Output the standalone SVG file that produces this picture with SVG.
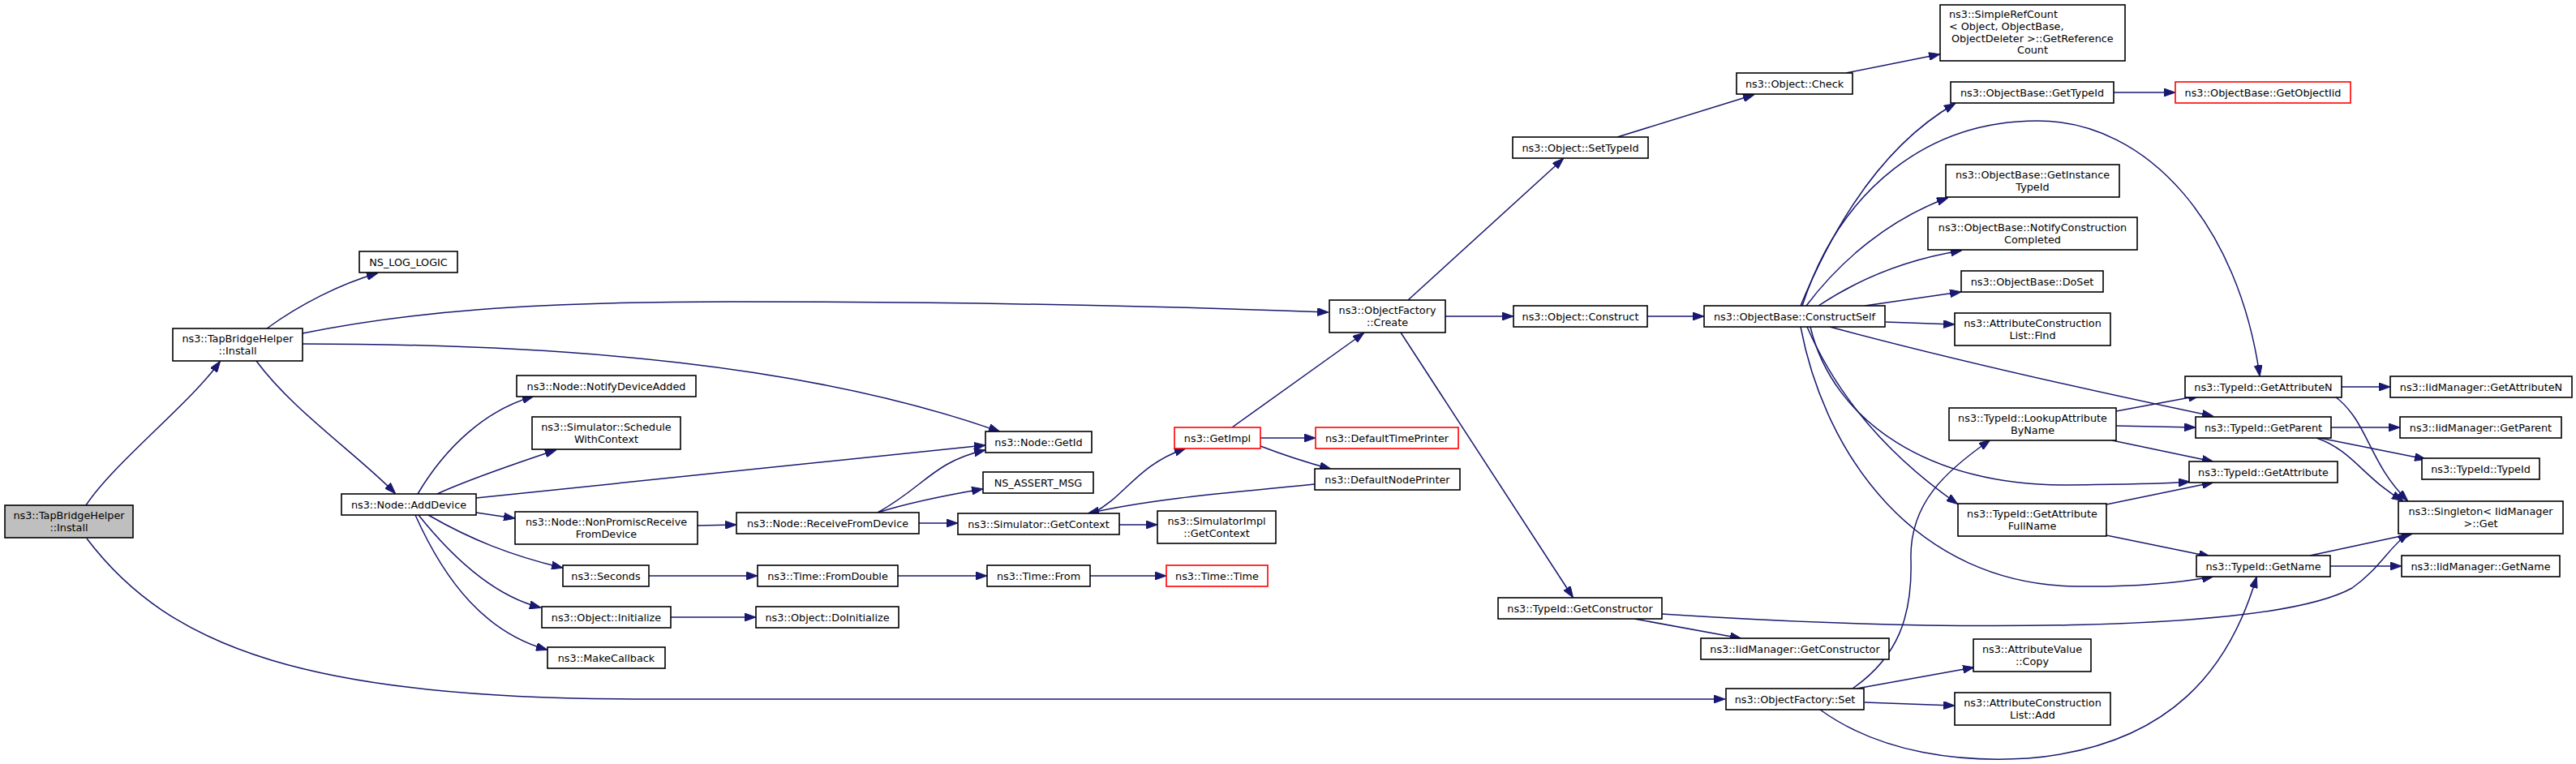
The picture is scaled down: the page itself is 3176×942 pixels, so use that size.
<svg xmlns="http://www.w3.org/2000/svg" width="3176" height="942" viewBox="0 0 3176 942">
<style>
.n{fill:#fff;stroke:#000;stroke-width:1.6}
.r{fill:#fff;stroke:#f00;stroke-width:1.6}
.g{fill:#bfbfbf;stroke:#000;stroke-width:1.6}
text{font-family:"DejaVu Sans","Liberation Sans",sans-serif;font-size:12.8px;fill:#000;text-anchor:middle}
.l{text-anchor:start}
#edges path{fill:none;stroke:#191970;stroke-width:1.5;marker-end:url(#a)}
</style>
<defs>
<marker id="a" viewBox="0 0 14 10" refX="13" refY="5" markerWidth="14" markerHeight="10" markerUnits="userSpaceOnUse" orient="auto">
<path d="M0,0L14,5L0,10z" fill="#191970" stroke="#191970" stroke-width="1"/>
</marker>
</defs>
<rect width="3176" height="942" fill="#fff"/>
<g id="edges">
<path d="M106,623 C140,571 235,497 271,446"/>
<path d="M107,664 C210,800 380,862 800,862 L2126,862"/>
<path d="M329,405 C370,375 420,350 465,337"/>
<path d="M373,411 C500,385 650,372 900,372 C1200,372 1450,378 1637,385"/>
<path d="M373,424 C700,424 1000,450 1232,532"/>
<path d="M316,445 C360,505 440,560 487,608"/>
<path d="M515,609 C550,550 600,505 657,489"/>
<path d="M539,609 C580,590 640,570 685,555"/>
<path d="M587,614 L1214,549"/>
<path d="M587,632 L634,639"/>
<path d="M528,635 C580,665 630,685 693,700"/>
<path d="M516,635 C560,690 610,735 666,749"/>
<path d="M512,635 C550,720 600,780 674,801"/>
<path d="M860,648 L907,647"/>
<path d="M1082,632 C1140,600 1150,570 1214,555"/>
<path d="M1082,632 C1120,620 1170,610 1211,603"/>
<path d="M1133,645 L1180,645"/>
<path d="M1347,633 C1390,610 1400,575 1461,553"/>
<path d="M1380,647 L1426,647"/>
<path d="M1519,527 L1681,411"/>
<path d="M1554,540 L1621,540"/>
<path d="M1554,550 C1580,560 1610,570 1640,578"/>
<path d="M1621,597 C1520,607 1420,615 1342,633"/>
<path d="M800,710 L933,710"/>
<path d="M1107,710 L1216,710"/>
<path d="M1344,710 L1437,710"/>
<path d="M827,761 L931,761"/>
<path d="M1736,370 L1927,196"/>
<path d="M1782,390 L1865,390"/>
<path d="M1727,410 L1939,736"/>
<path d="M1994,169 L2162,117"/>
<path d="M2276,90 L2391,67"/>
<path d="M2031,390 L2100,390"/>
<path d="M2220,377 C2260,280 2320,180 2410,128"/>
<path d="M2222,377 C2270,230 2380,149 2512,149 C2650,149 2760,280 2786,463"/>
<path d="M2227,377 C2270,320 2330,270 2401,244"/>
<path d="M2242,377 C2290,345 2350,320 2418,309"/>
<path d="M2299,377 L2417,360"/>
<path d="M2325,397 L2409,400"/>
<path d="M2256,403 Q2450,455 2728,513"/>
<path d="M2232,403 C2260,520 2380,600 2550,598 C2620,597 2660,597 2699,594"/>
<path d="M2228,403 C2270,500 2340,570 2413,621"/>
<path d="M2220,403 C2250,560 2360,720 2560,723 C2640,724 2690,718 2728,711"/>
<path d="M2284,849 C2340,810 2358,760 2356,690 C2354,620 2400,580 2453,543"/>
<path d="M2609,507 L2711,488"/>
<path d="M2609,525 L2706,527"/>
<path d="M2604,543 L2728,569"/>
<path d="M2597,622 L2728,595"/>
<path d="M2597,660 L2724,686"/>
<path d="M2887,477 L2946,477"/>
<path d="M2879,489 C2920,520 2920,570 2968,617"/>
<path d="M2874,527 L2958,527"/>
<path d="M2860,540 L2990,566"/>
<path d="M2856,540 C2900,555 2915,590 2962,617"/>
<path d="M2848,685 L2974,658"/>
<path d="M2873,698 L2960,698"/>
<path d="M2015,763 L2146,787"/>
<path d="M2049,757 C2400,780 2800,780 2900,725 C2935,700 2945,675 2969,658"/>
<path d="M2289,849 L2433,823"/>
<path d="M2299,866 L2409,870"/>
<path d="M2244,875 C2320,930 2420,940 2500,935 C2680,920 2750,820 2782,712"/>
<path d="M2606,114 L2681,114"/>
</g>
<g id="n1"><rect class="g" x="6" y="623" width="158" height="40"/><text x="85" y="640">ns3::TapBridgeHelper</text><text x="85" y="654.5">::Install</text></g>
<g id="n2"><rect class="n" x="213" y="405" width="160" height="40"/><text x="293" y="422">ns3::TapBridgeHelper</text><text x="293" y="436.5">::Install</text></g>
<g id="n3"><rect class="n" x="443" y="310" width="121" height="26"/><text x="503.5" y="327.5">NS_LOG_LOGIC</text></g>
<g id="n4"><rect class="n" x="421" y="609" width="166" height="26"/><text x="504" y="626.5">ns3::Node::AddDevice</text></g>
<g id="n5"><rect class="n" x="637" y="463" width="221" height="26"/><text x="747.5" y="480.5">ns3::Node::NotifyDeviceAdded</text></g>
<g id="n6"><rect class="n" x="656" y="514" width="183" height="40"/><text x="747.5" y="531">ns3::Simulator::Schedule</text><text x="747.5" y="545.5">WithContext</text></g>
<g id="n7"><rect class="n" x="635" y="631" width="225" height="40"/><text x="747.5" y="648">ns3::Node::NonPromiscReceive</text><text x="747.5" y="662.5">FromDevice</text></g>
<g id="n8"><rect class="n" x="694" y="697" width="106" height="26"/><text x="747" y="714.5">ns3::Seconds</text></g>
<g id="n9"><rect class="n" x="668" y="748" width="159" height="26"/><text x="747.5" y="765.5">ns3::Object::Initialize</text></g>
<g id="n10"><rect class="n" x="675" y="798" width="145" height="26"/><text x="747.5" y="815.5">ns3::MakeCallback</text></g>
<g id="n11"><rect class="n" x="908" y="632" width="225" height="26"/><text x="1020.5" y="649.5">ns3::Node::ReceiveFromDevice</text></g>
<g id="n12"><rect class="n" x="934" y="697" width="173" height="26"/><text x="1020.5" y="714.5">ns3::Time::FromDouble</text></g>
<g id="n13"><rect class="n" x="932" y="748" width="176" height="26"/><text x="1020" y="765.5">ns3::Object::DoInitialize</text></g>
<g id="n14"><rect class="n" x="1215" y="532" width="131" height="26"/><text x="1280.5" y="549.5">ns3::Node::GetId</text></g>
<g id="n15"><rect class="n" x="1212" y="582" width="136" height="26"/><text x="1280" y="599.5">NS_ASSERT_MSG</text></g>
<g id="n16"><rect class="n" x="1181" y="633" width="199" height="26"/><text x="1280.5" y="650.5">ns3::Simulator::GetContext</text></g>
<g id="n17"><rect class="n" x="1217" y="697" width="127" height="26"/><text x="1280.5" y="714.5">ns3::Time::From</text></g>
<g id="n18"><rect class="r" x="1448" y="527" width="106" height="26"/><text x="1501" y="544.5">ns3::GetImpl</text></g>
<g id="n19"><rect class="n" x="1427" y="630" width="146" height="40"/><text x="1500" y="647">ns3::SimulatorImpl</text><text x="1500" y="661.5">::GetContext</text></g>
<g id="n20"><rect class="r" x="1438" y="697" width="125" height="26"/><text x="1500.5" y="714.5">ns3::Time::Time</text></g>
<g id="n21"><rect class="n" x="1639" y="370" width="143" height="40"/><text x="1710.5" y="387">ns3::ObjectFactory</text><text x="1710.5" y="401.5">::Create</text></g>
<g id="n22"><rect class="r" x="1622" y="527" width="176" height="26"/><text x="1710" y="544.5">ns3::DefaultTimePrinter</text></g>
<g id="n23"><rect class="n" x="1621" y="578" width="179" height="26"/><text x="1710.5" y="595.5">ns3::DefaultNodePrinter</text></g>
<g id="n24"><rect class="n" x="1865" y="169" width="167" height="26"/><text x="1948.5" y="186.5">ns3::Object::SetTypeId</text></g>
<g id="n25"><rect class="n" x="1866" y="377" width="165" height="26"/><text x="1948.5" y="394.5">ns3::Object::Construct</text></g>
<g id="n26"><rect class="n" x="1847" y="737" width="202" height="26"/><text x="1948" y="754.5">ns3::TypeId::GetConstructor</text></g>
<g id="n27"><rect class="n" x="2141" y="90" width="143" height="26"/><text x="2212.5" y="107.5">ns3::Object::Check</text></g>
<g id="n28"><rect class="n" x="2101" y="377" width="223" height="26"/><text x="2212.5" y="394.5">ns3::ObjectBase::ConstructSelf</text></g>
<g id="n29"><rect class="n" x="2097" y="787" width="232" height="26"/><text x="2213" y="804.5">ns3::IidManager::GetConstructor</text></g>
<g id="n30"><rect class="n" x="2128" y="849" width="170" height="26"/><text x="2213" y="866.5">ns3::ObjectFactory::Set</text></g>
<g id="n31"><rect class="n" x="2392" y="6" width="228" height="69"/><text class="l" x="2403" y="22">ns3::SimpleRefCount</text><text class="l" x="2403" y="37">&lt; Object, ObjectBase,</text><text class="l" x="2406" y="51.5">ObjectDeleter &gt;::GetReference</text><text x="2506" y="66">Count</text></g>
<g id="n32"><rect class="n" x="2405" y="101" width="201" height="26"/><text x="2505.5" y="118.5">ns3::ObjectBase::GetTypeId</text></g>
<g id="n33"><rect class="n" x="2399" y="203" width="214" height="40"/><text x="2506" y="220">ns3::ObjectBase::GetInstance</text><text x="2506" y="234.5">TypeId</text></g>
<g id="n34"><rect class="n" x="2377" y="268" width="258" height="40"/><text x="2506" y="285">ns3::ObjectBase::NotifyConstruction</text><text x="2506" y="299.5">Completed</text></g>
<g id="n35"><rect class="n" x="2418" y="334" width="175" height="26"/><text x="2505.5" y="351.5">ns3::ObjectBase::DoSet</text></g>
<g id="n36"><rect class="n" x="2410" y="386" width="192" height="40"/><text x="2506" y="403">ns3::AttributeConstruction</text><text x="2506" y="417.5">List::Find</text></g>
<g id="n37"><rect class="n" x="2403" y="503" width="206" height="40"/><text x="2506" y="520">ns3::TypeId::LookupAttribute</text><text x="2506" y="534.5">ByName</text></g>
<g id="n38"><rect class="n" x="2414" y="621" width="183" height="40"/><text x="2505.5" y="638">ns3::TypeId::GetAttribute</text><text x="2505.5" y="652.5">FullName</text></g>
<g id="n39"><rect class="n" x="2433" y="788" width="145" height="40"/><text x="2505.5" y="805">ns3::AttributeValue</text><text x="2505.5" y="819.5">::Copy</text></g>
<g id="n40"><rect class="n" x="2410" y="854" width="192" height="40"/><text x="2506" y="871">ns3::AttributeConstruction</text><text x="2506" y="885.5">List::Add</text></g>
<g id="n41"><rect class="r" x="2682" y="101" width="216" height="26"/><text x="2790" y="118.5">ns3::ObjectBase::GetObjectIid</text></g>
<g id="n42"><rect class="n" x="2694" y="464" width="193" height="26"/><text x="2790.5" y="481.5">ns3::TypeId::GetAttributeN</text></g>
<g id="n43"><rect class="n" x="2707" y="514" width="167" height="26"/><text x="2790.5" y="531.5">ns3::TypeId::GetParent</text></g>
<g id="n44"><rect class="n" x="2699" y="569" width="183" height="26"/><text x="2790.5" y="586.5">ns3::TypeId::GetAttribute</text></g>
<g id="n45"><rect class="n" x="2708" y="685" width="165" height="26"/><text x="2790.5" y="702.5">ns3::TypeId::GetName</text></g>
<g id="n46"><rect class="n" x="2947" y="464" width="224" height="26"/><text x="3059" y="481.5">ns3::IidManager::GetAttributeN</text></g>
<g id="n47"><rect class="n" x="2959" y="514" width="199" height="26"/><text x="3058.5" y="531.5">ns3::IidManager::GetParent</text></g>
<g id="n48"><rect class="n" x="2986" y="565" width="145" height="26"/><text x="3058.5" y="582.5">ns3::TypeId::TypeId</text></g>
<g id="n49"><rect class="n" x="2957" y="618" width="203" height="40"/><text x="3058.5" y="635">ns3::Singleton&lt; IidManager</text><text x="3058.5" y="649.5">&gt;::Get</text></g>
<g id="n50"><rect class="n" x="2961" y="685" width="195" height="26"/><text x="3058.5" y="702.5">ns3::IidManager::GetName</text></g>
</svg>
